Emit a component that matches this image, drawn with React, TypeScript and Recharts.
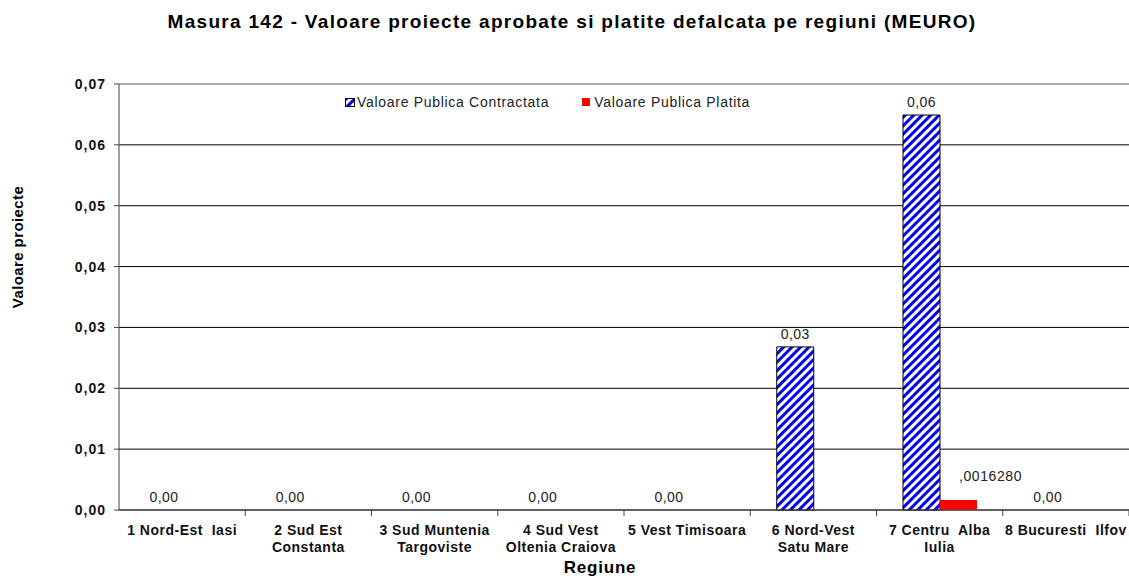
import { BarChart, Bar, XAxis, YAxis, CartesianGrid, ReferenceLine, Rectangle } from 'recharts';

const regions = [
  '1 Nord-Est  Iasi',
  '2 Sud Est\nConstanta',
  '3 Sud Muntenia\nTargoviste',
  '4 Sud Vest\nOltenia Craiova',
  '5 Vest Timisoara',
  '6 Nord-Vest\nSatu Mare',
  '7 Centru  Alba\nIulia',
  '8 Bucuresti  Ilfov',
];
const contractata = [0, 0, 0, 0, 0, 0.0268, 0.0649, 0];
const platita = [0, 0, 0, 0, 0, 0, 0.001628, 0];
const yTicks = [0, 0.01, 0.02, 0.03, 0.04, 0.05, 0.06, 0.07];

const W = 1129;
const H = 578;
const Y_AXIS_W = 119;
const RIGHT = 0;
const BAND = (W - Y_AXIS_W - RIGHT) / regions.length;
const FONT = '"Liberation Sans", Arial, sans-serif';

const data = regions.map((name, i) => ({
  name,
  contractata: contractata[i],
  platita: platita[i],
}));

const fmt = (v: number) => v.toFixed(2).replace('.', ',');

function XTick(props: any) {
  const { x, y, payload } = props;
  const lines = String(payload.value).split('\n');
  return (
    <g>
      <line x1={x + BAND / 2} x2={x + BAND / 2} y1={y} y2={y + 6} stroke="#444" />
      {lines.map((l, i) => (
        <text
          key={i}
          x={x}
          y={y + 25 + i * 17}
          textAnchor="middle"
          fontFamily={FONT}
          fontSize={14}
          fontWeight="bold"
          letterSpacing={0.5}
          fill="#111"
          style={{ whiteSpace: 'pre' }}
        >
          {l}
        </text>
      ))}
    </g>
  );
}

function BlueShape(props: any) {
  const { x, y, width, height, value } = props;
  const v = Array.isArray(value) ? value[1] : value;
  return (
    <g>
      {height > 0 && (
        <Rectangle x={x} y={y} width={width} height={height} fill="url(#hatch)" stroke="#000" strokeWidth={1} />
      )}
      <text
        x={x + width / 2}
        y={y - 8}
        textAnchor="middle"
        fontFamily={FONT}
        fontSize={14}
        letterSpacing={0.4}
        fill="#222"
      >
        {fmt(Number(v))}
      </text>
    </g>
  );
}

function RedShape(props: any) {
  const { x, y, width, height, value } = props;
  const v = Number(Array.isArray(value) ? value[1] : value);
  if (!v) return <g />;
  return (
    <g>
      <Rectangle x={x} y={y} width={width} height={height} fill="#ff0000" />
      <text
        x={x + width / 2 + 32}
        y={y - 19}
        textAnchor="middle"
        fontFamily={FONT}
        fontSize={14}
        letterSpacing={0.6}
        fill="#222"
      >
        {',' + v.toFixed(7).split('.')[1]}
      </text>
    </g>
  );
}

function LegendBox() {
  return (
    <div
      style={{
        position: 'absolute',
        left: 345,
        top: 94,
        display: 'flex',
        alignItems: 'center',
        fontFamily: FONT,
        fontSize: 14,
        letterSpacing: 0.7,
        color: '#222',
        whiteSpace: 'nowrap',
      }}
    >
      <svg width={10} height={9} style={{ marginRight: 2 }}>
        <rect x={0.5} y={0.5} width={9} height={8} fill="url(#hatch)" stroke="#000" />
      </svg>
      <span>Valoare Publica Contractata</span>
      <svg width={8} height={8} style={{ marginLeft: 33, marginRight: 4 }}>
        <rect x={0} y={0} width={8} height={8} fill="#ff0000" />
      </svg>
      <span>Valoare Publica Platita</span>
    </div>
  );
}

export default function App() {
  return (
    <div style={{ position: 'absolute', left: 0, top: 0, width: W, height: H, background: '#fff', overflow: 'hidden' }}>
      <div
        style={{
          position: 'absolute',
          left: 0,
          top: 11,
          width: 1144,
          textAlign: 'center',
          fontFamily: FONT,
          fontSize: 19,
          letterSpacing: 1.3,
          fontWeight: 'bold',
          color: '#000',
        }}
      >
        Masura 142 - Valoare proiecte aprobate si platite defalcata pe regiuni (MEURO)
      </div>
      <BarChart
        width={W}
        height={H}
        data={data}
        margin={{ top: 84, right: RIGHT, left: 0, bottom: 0 }}
        barCategoryGap="21%"
        barGap={0}
        style={{ position: 'absolute', left: 0, top: 0 }}
      >
        <defs>
          <pattern id="hatch" patternUnits="userSpaceOnUse" width={6} height={6} patternTransform="rotate(45)">
            <rect x={0} y={0} width={6} height={6} fill="#fff" />
            <rect x={0} y={0} width={3} height={6} fill="#0000ee" />
          </pattern>
        </defs>
        <CartesianGrid vertical={false} stroke="#000" strokeWidth={1} />
        <ReferenceLine y={0.07} stroke="#aaa" strokeWidth={2} />
        <XAxis
          dataKey="name"
          interval={0}
          height={H - 84 - 426}
          tickSize={0}
          tickMargin={0}
          tick={<XTick />}
          axisLine={{ stroke: '#444' }}
          label={() => (
            <text
              x={600}
              y={573}
              textAnchor="middle"
              fontFamily={FONT}
              fontSize={17}
              letterSpacing={0.8}
              fontWeight="bold"
              fill="#000"
            >
              Regiune
            </text>
          )}
        />
        <YAxis
          width={Y_AXIS_W}
          domain={[0, 0.07]}
          ticks={yTicks}
          tickFormatter={fmt}
          tickSize={5}
          tickMargin={8}
          tick={{ fontFamily: FONT, fontSize: 14, fontWeight: 'bold', fill: '#111', letterSpacing: 1 }}
          tickLine={{ stroke: '#444' }}
          axisLine={{ stroke: '#444' }}
          label={() => (
            <text
              x={23}
              y={247}
              transform="rotate(-90 23 247)"
              textAnchor="middle"
              fontFamily={FONT}
              fontSize={15}
              letterSpacing={0.4}
              fontWeight="bold"
              fill="#000"
            >
              Valoare proiecte
            </text>
          )}
        />
        <Bar dataKey="contractata" shape={<BlueShape />} isAnimationActive={false} />
        <Bar dataKey="platita" shape={<RedShape />} isAnimationActive={false} />
      </BarChart>
      <LegendBox />
    </div>
  );
}
